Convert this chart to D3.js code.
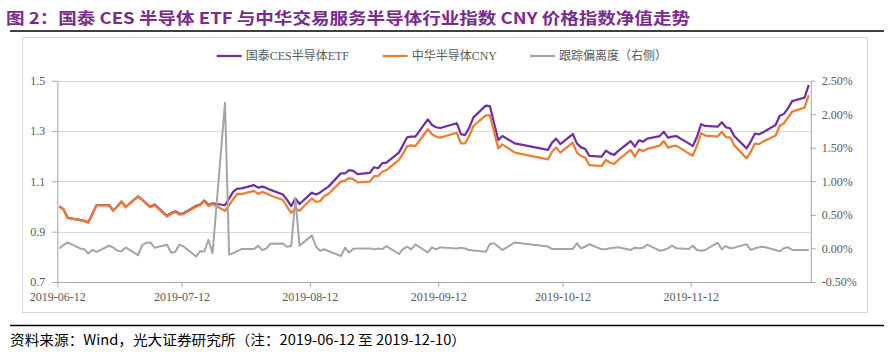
<!DOCTYPE html>
<html>
<head>
<meta charset="utf-8">
<script src="https://cdn.jsdelivr.net/npm/d3@7"></script>
<style>
  body { margin: 0; background: #fff; }
  svg { display: block; }
</style>
</head>
<body>
<div id="chart"></div>
<script>
// data (trading days 2019)
const dates = [
  '06-12', '06-13', '06-14', '06-17', '06-18', '06-19', '06-20', '06-21', '06-24', '06-25', '06-26', '06-27', '06-28',
  '07-01', '07-02', '07-03', '07-04', '07-05', '07-08', '07-09', '07-10', '07-11', '07-12', '07-15', '07-16',
  '07-17', '07-18', '07-19', '07-22', '07-23', '07-24', '07-25', '07-26', '07-29', '07-30', '07-31',
  '08-01', '08-02', '08-05', '08-06', '08-07', '08-08', '08-09', '08-12', '08-13', '08-14', '08-15', '08-16',
  '08-19', '08-20', '08-21', '08-22', '08-23', '08-26', '08-27', '08-28', '08-29', '08-30',
  '09-02', '09-03', '09-04', '09-05', '09-06', '09-09', '09-10', '09-11', '09-12', '09-16', '09-17', '09-18',
  '09-19', '09-20', '09-23', '09-24', '09-25', '09-26', '09-27', '09-30',
  '10-08', '10-09', '10-10', '10-11', '10-14', '10-15', '10-16', '10-17', '10-18', '10-21', '10-22', '10-23',
  '10-24', '10-25', '10-28', '10-29', '10-30', '10-31',
  '11-01', '11-04', '11-05', '11-06', '11-07', '11-08', '11-11', '11-12', '11-13', '11-14', '11-15', '11-18',
  '11-19', '11-20', '11-21', '11-22', '11-25', '11-26', '11-27', '11-28', '11-29',
  '12-02', '12-03', '12-04', '12-05', '12-06', '12-09', '12-10',
]

// 国泰CES半导体ETF
const etfValues = [
  1.000, 0.989, 0.955, 0.947, 0.943, 0.937, 0.971, 1.006, 1.006, 0.984, 1.000, 1.020, 0.998,
  1.040, 1.027, 1.012, 0.999, 1.008, 0.963, 0.973, 0.981, 0.971, 0.973, 1.002, 1.008,
  1.024, 1.006, 1.013, 1.005, 1.032, 1.059, 1.071, 1.072, 1.085, 1.075, 1.079,
  1.074, 1.066, 1.048, 1.026, 1.002, 1.032, 1.010, 1.055, 1.048, 1.056, 1.068, 1.079,
  1.132, 1.132, 1.145, 1.142, 1.129, 1.134, 1.156, 1.152, 1.172, 1.174,
  1.214, 1.244, 1.275, 1.278, 1.278, 1.346, 1.324, 1.315, 1.312, 1.331, 1.288, 1.284,
  1.313, 1.354, 1.401, 1.399, 1.331, 1.264, 1.280, 1.251,
  1.225, 1.254, 1.270, 1.248, 1.288, 1.251, 1.235, 1.229, 1.201, 1.198, 1.222, 1.211,
  1.205, 1.221, 1.260, 1.238, 1.263, 1.258,
  1.270, 1.280, 1.297, 1.274, 1.278, 1.280, 1.251, 1.240, 1.277, 1.327, 1.320, 1.317,
  1.335, 1.315, 1.311, 1.280, 1.231, 1.258, 1.290, 1.287, 1.295,
  1.324, 1.361, 1.368, 1.390, 1.419, 1.433, 1.483,
]

// 中华半导体CNY
const cnyValues = [
  1.000, 0.989, 0.954, 0.946, 0.942, 0.936, 0.970, 1.005, 1.005, 0.983, 0.999, 1.019, 0.997,
  1.039, 1.026, 1.010, 0.997, 1.005, 0.960, 0.970, 0.978, 0.968, 0.970, 0.999, 1.005,
  1.021, 1.002, 1.010, 0.983, 1.006, 1.029, 1.050, 1.049, 1.062, 1.050, 1.058,
  1.052, 1.044, 1.026, 0.999, 0.975, 0.993, 0.983, 1.032, 1.018, 1.022, 1.042, 1.050,
  1.099, 1.103, 1.113, 1.109, 1.096, 1.099, 1.121, 1.121, 1.138, 1.145,
  1.185, 1.209, 1.240, 1.243, 1.240, 1.307, 1.287, 1.278, 1.274, 1.293, 1.251, 1.251,
  1.280, 1.320, 1.362, 1.362, 1.297, 1.231, 1.247, 1.214,
  1.187, 1.218, 1.235, 1.214, 1.254, 1.214, 1.201, 1.195, 1.164, 1.161, 1.185, 1.174,
  1.169, 1.185, 1.225, 1.198, 1.227, 1.221,
  1.229, 1.242, 1.260, 1.234, 1.239, 1.242, 1.211, 1.202, 1.242, 1.291, 1.282, 1.278,
  1.297, 1.276, 1.275, 1.244, 1.191, 1.218, 1.250, 1.248, 1.258,
  1.282, 1.321, 1.331, 1.353, 1.377, 1.393, 1.443,
]

// 跟踪偏离度 (%), right axis
const deviation = [
  0.00, 0.05, 0.09, 0.00, -0.01, -0.075, -0.02, -0.05, 0.04, 0.015, -0.035, -0.04, 0.015,
  -0.10, 0.05, 0.085, 0.09, 0.01, 0.055, -0.065, -0.05, 0.06, 0.03, -0.12, -0.04,
  -0.045, 0.13, -0.07, 2.17, -0.09, -0.07, -0.04, -0.01, -0.01, 0.04, -0.025,
  0.00, 0.07, 0.075, 0.025, 0.035, 0.75, 0.04, 0.195, 0.025, -0.035, -0.012, -0.04,
  -0.113, 0.01, -0.06, -0.005, 0.0, 0.0, -0.014, 0.0, -0.01, 0.036,
  -0.083, -0.01, 0.026, -0.014, 0.06, -0.06, 0.016, -0.014, 0.016, 0.0, 0.01, 0.0,
  -0.024, -0.03, -0.05, 0.066, 0.076, 0.03, -0.024, 0.09,
  0.03, -0.01, -0.01, -0.01, -0.008, 0.077, 0.002, 0.026, 0.062, -0.013, -0.013, 0.002,
  0.012, 0.017, -0.023, 0.012, 0.002, 0.012,
  0.056, -0.033, -0.023, 0.002, 0.041, 0.002, -0.008, 0.041, -0.023, -0.033, -0.023, 0.086,
  -0.013, 0.036, 0.002, 0.012, 0.062, -0.023, 0.002, 0.017, 0.026,
  -0.023, -0.043, 0.002, 0.017, -0.023, -0.023, -0.023,
]

const leftTicks = [0.7, 0.9, 1.1, 1.3, 1.5]
const rightTicks = [-0.5, 0, 0.5, 1, 1.5, 2, 2.5]
const xTicks = ['2019-06-12', '2019-07-12', '2019-08-12', '2019-09-12', '2019-10-12', '2019-11-12']
const seriesNames = ['国泰CES半导体ETF', '中华半导体CNY', '跟踪偏离度（右侧）']

const title = '图 2：国泰 CES 半导体 ETF 与中华交易服务半导体行业指数 CNY 价格指数净值走势'
const source = '资料来源：Wind，光大证券研究所（注：2019-06-12 至 2019-12-10）'

// size
const W = 894
const H = 352
const plot = { left: 57.3, right: 810.8, top: 80.7, bottom: 282 }

// style
const colors = ['#7030a0', '#ed7d31', '#a5a5a5']
const axisColor = '#a6a6a6'
const gridColor = '#d9d9d9'
const labelColor = '#595959'
const serif = '"Liberation Serif", "Noto Sans CJK SC", serif'

const parse = d3.timeParse('%Y-%m-%d')
const points = dates.map((d, i) => ({
  // each day sits in the middle of its slot on the date axis
  date: d3.timeHour.offset(parse('2019-' + d), 12),
  etf: etfValues[i],
  cny: cnyValues[i],
  dev: deviation[i],
}))

// scale
const x = d3.scaleTime()
  .domain([parse('2019-06-12'), parse('2019-12-11')])
  .range([plot.left, plot.right])
const y = d3.scaleLinear().domain([0.7, 1.5]).range([plot.bottom, plot.top])
const yRight = d3.scaleLinear().domain([-0.5, 2.5]).range([plot.bottom, plot.top])

const svg = d3.select('#chart')
  .append('svg')
  .attr('width', W)
  .attr('height', H)

// title + rules
svg.append('text')
  .attr('x', 6)
  .attr('y', 24)
  .attr('font-family', '"Liberation Sans Narrow", "Noto Sans CJK SC", sans-serif')
  .attr('font-weight', 'bold')
  .attr('font-size', '16px')
  .attr('fill', '#772c8e')
  .attr('textLength', 684)
  .attr('lengthAdjust', 'spacingAndGlyphs')
  .text(title)

svg.append('line')
  .attr('x1', 10).attr('x2', 884)
  .attr('y1', 31).attr('y2', 31)
  .attr('stroke', '#000').attr('stroke-width', 1.3)

svg.append('rect')
  .attr('x', 22.5).attr('y', 37.5)
  .attr('width', 845).attr('height', 275)
  .attr('fill', 'none')
  .attr('stroke', gridColor)

svg.append('line')
  .attr('x1', 10).attr('x2', 884)
  .attr('y1', 325.5).attr('y2', 325.5)
  .attr('stroke', '#000').attr('stroke-width', 1.3)

svg.append('text')
  .attr('x', 10)
  .attr('y', 345)
  .attr('font-family', '"Liberation Sans Narrow", "Noto Sans CJK SC", sans-serif')
  .attr('font-size', '14px')
  .attr('fill', '#000')
  .attr('textLength', 456)
  .attr('lengthAdjust', 'spacingAndGlyphs')
  .text(source)

// gridlines
svg.append('g')
  .selectAll('line')
  .data(leftTicks.filter(d => d > 0.7))
  .join('line')
  .attr('x1', plot.left).attr('x2', plot.right)
  .attr('y1', d => Math.round(y(d)) + 0.5)
  .attr('y2', d => Math.round(y(d)) + 0.5)
  .attr('stroke', gridColor)

function styleAxis(g) {
  g.select('.domain').attr('stroke', axisColor)
  g.selectAll('.tick line').attr('stroke', axisColor)
  g.selectAll('.tick text')
    .attr('fill', labelColor)
    .attr('font-family', serif)
    .attr('font-size', '12px')
}

// left axis
svg.append('g')
  .attr('transform', `translate(${plot.left},0)`)
  .call(d3.axisLeft(y).tickValues(leftTicks).tickFormat(d3.format('.1f')).tickSize(5).tickSizeOuter(0).tickPadding(7))
  .call(styleAxis)

// right axis
svg.append('g')
  .attr('transform', `translate(${plot.right},0)`)
  .call(d3.axisRight(yRight).tickValues(rightTicks).tickFormat(d => d.toFixed(2) + '%').tickSize(5).tickSizeOuter(0).tickPadding(6))
  .call(styleAxis)

// x axis
svg.append('g')
  .attr('transform', `translate(0,${plot.bottom})`)
  .call(d3.axisBottom(x).tickValues(xTicks.map(parse)).tickFormat(d3.timeFormat('%Y-%m-%d')).tickSize(5).tickSizeOuter(0).tickPadding(5.5))
  .call(styleAxis)

// lines
const lineLeft = key => d3.line().x(d => x(d.date)).y(d => y(d[key]))

svg.append('path')
  .datum(points)
  .attr('d', lineLeft('etf'))
  .attr('fill', 'none')
  .attr('stroke', colors[0])
  .attr('stroke-width', 2.25)
  .attr('stroke-linejoin', 'round')

svg.append('path')
  .datum(points)
  .attr('d', lineLeft('cny'))
  .attr('fill', 'none')
  .attr('stroke', colors[1])
  .attr('stroke-width', 2.25)
  .attr('stroke-linejoin', 'round')

svg.append('path')
  .datum(points)
  .attr('d', d3.line().x(d => x(d.date)).y(d => yRight(d.dev)))
  .attr('fill', 'none')
  .attr('stroke', colors[2])
  .attr('stroke-width', 2)
  .attr('stroke-linejoin', 'round')

// legend
const legendX = [216.7, 382.7, 530]
const legend = svg.append('g')
  .selectAll('g')
  .data(seriesNames)
  .join('g')
  .attr('transform', (d, i) => `translate(${legendX[i]},56)`)

legend.append('line')
  .attr('x1', 0).attr('x2', 25)
  .attr('stroke', (d, i) => colors[i])
  .attr('stroke-width', 2.25)

legend.append('text')
  .attr('x', 29)
  .attr('dy', '0.35em')
  .attr('font-family', serif)
  .attr('font-size', '12px')
  .attr('fill', labelColor)
  .text(d => d)
</script>
</body>
</html>
